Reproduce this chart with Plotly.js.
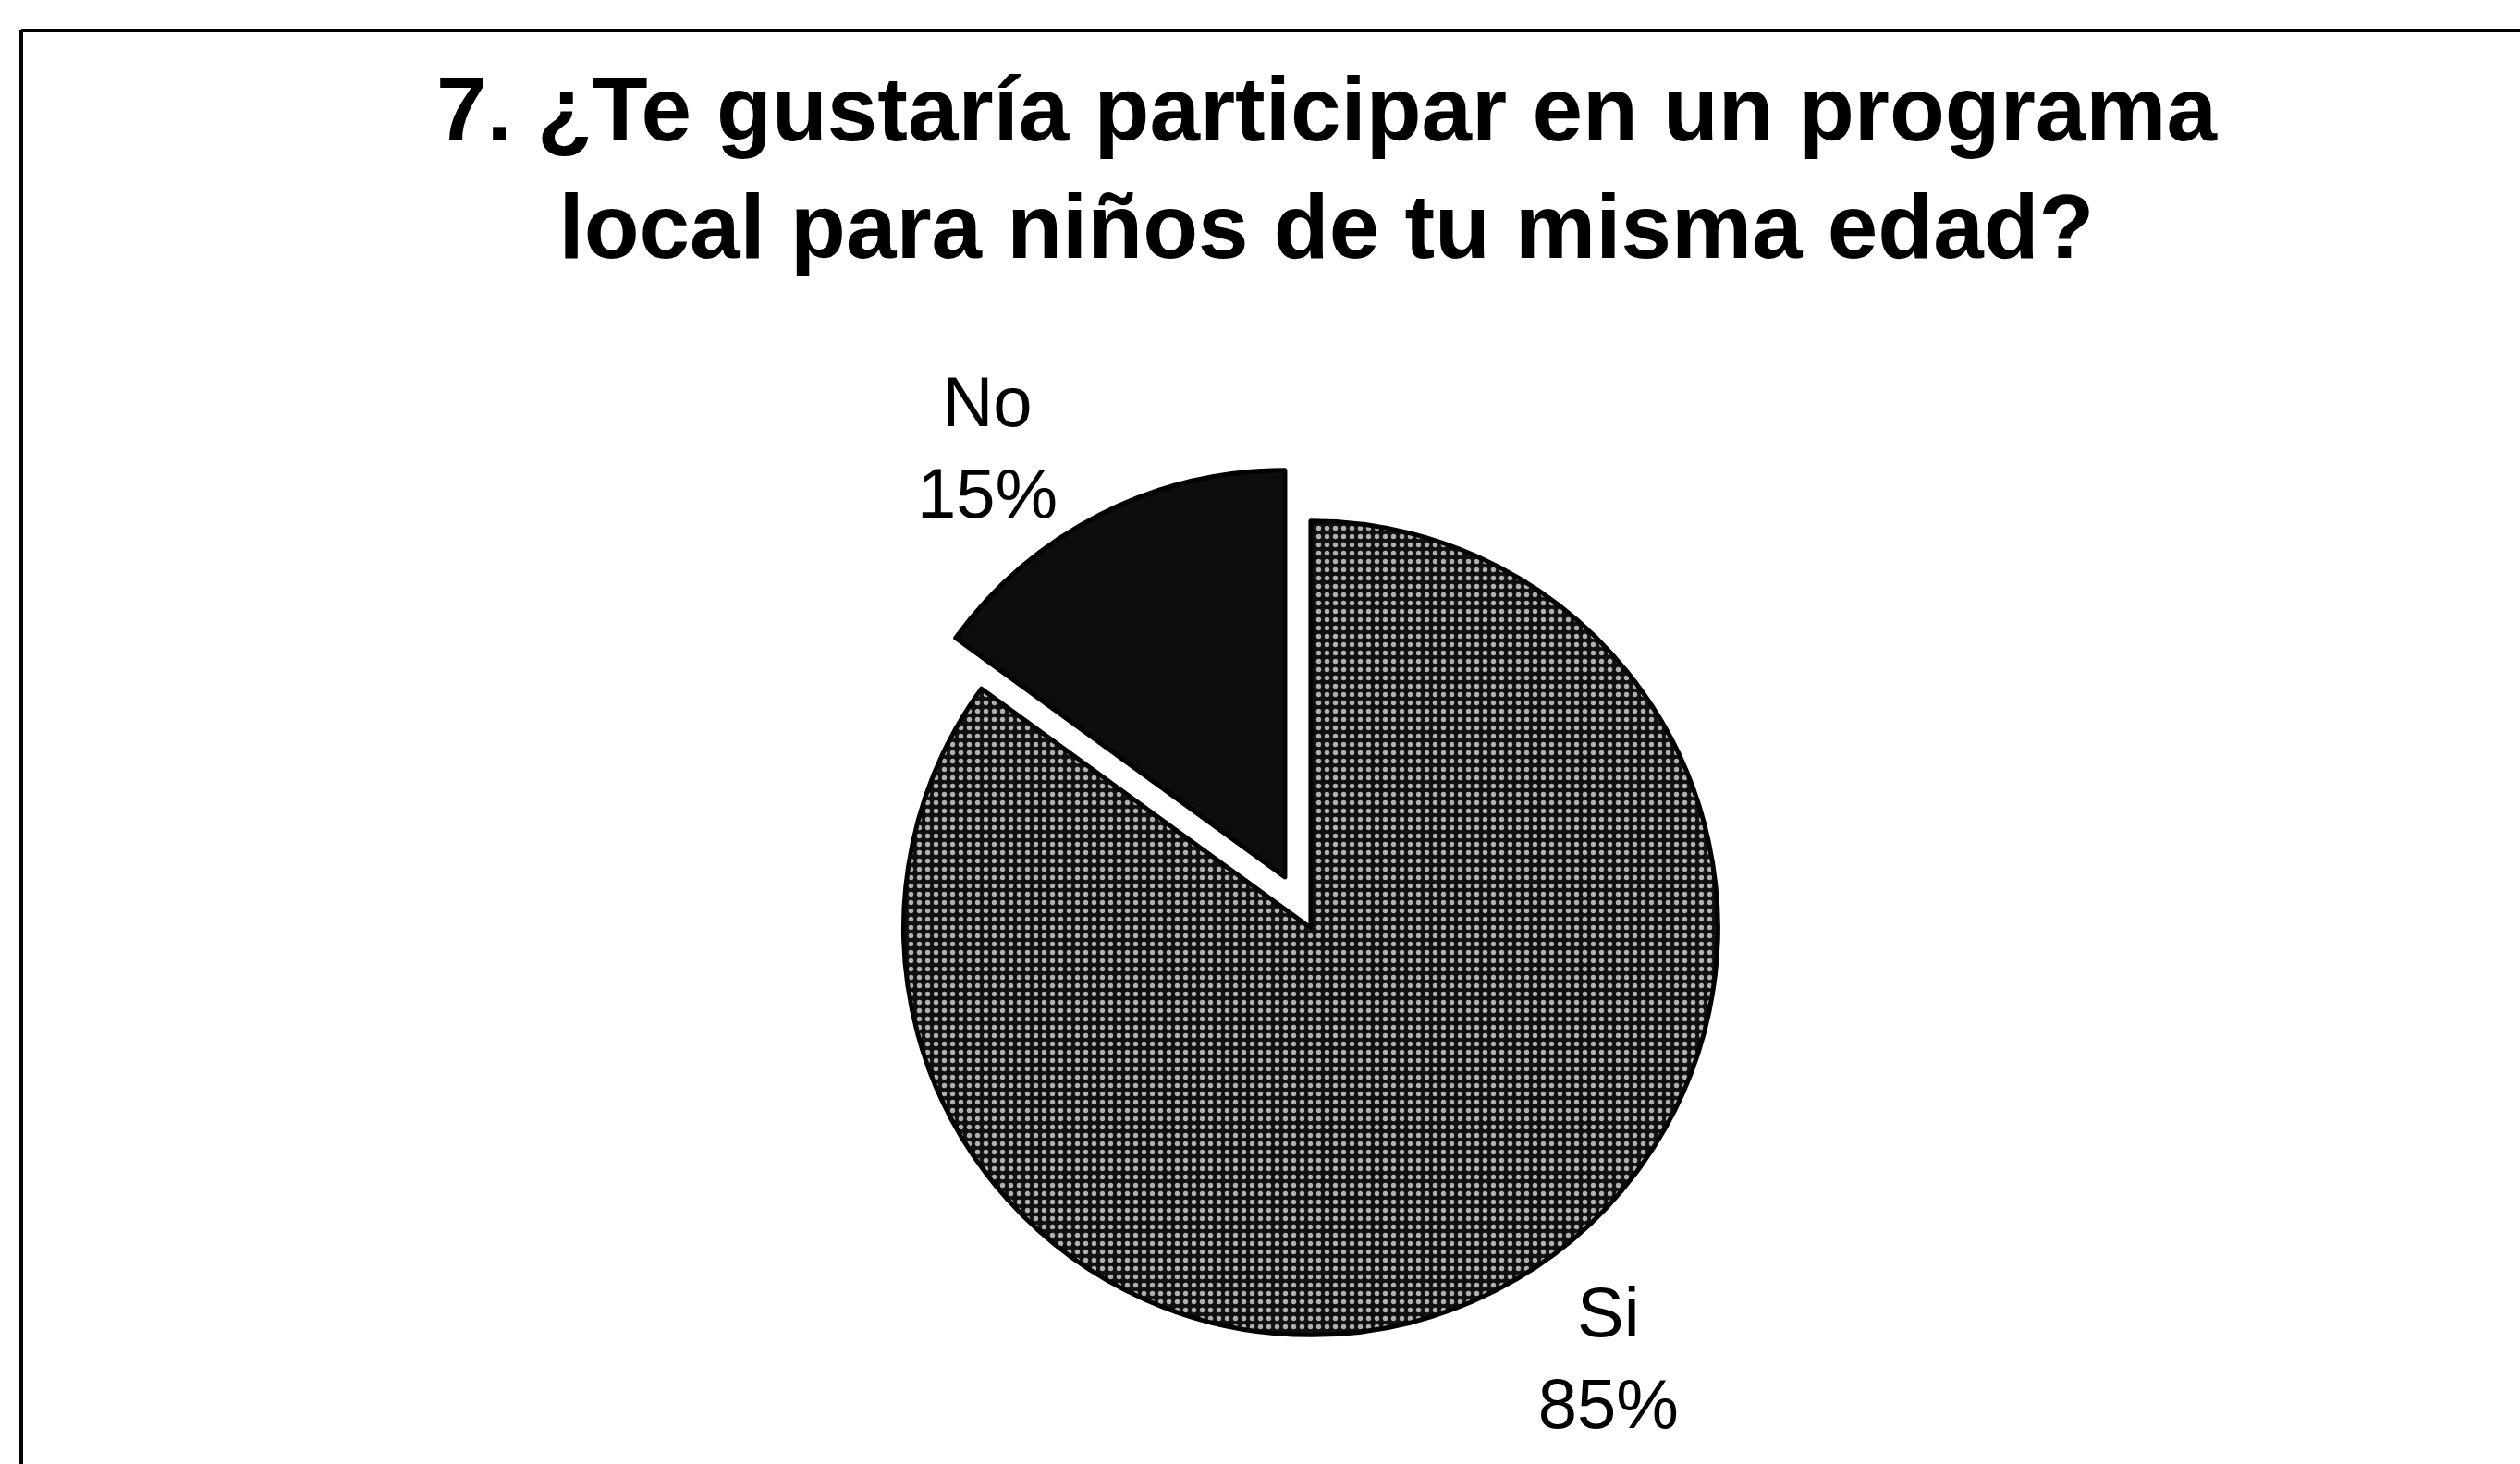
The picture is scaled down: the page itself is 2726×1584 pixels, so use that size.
<!DOCTYPE html>
<html>
<head>
<meta charset="utf-8">
<script src="https://cdn.plot.ly/plotly-3.0.1.min.js"></script>
<style>
  html, body { margin: 0; padding: 0; background: #fff; }
  #chart { width: 2726px; height: 1584px; }
</style>
</head>
<body>
<div id="chart"></div>
<script>
// survey answers, in percent (Si runs clockwise from 12 o'clock, No closes the circle)
let answers = ["Si", "No"];
let shares = [85, 15];
let pulls = [0, 0.14];
let sliceColors = ["#3a3a3a", "#0d0d0d"];
let slicePatterns = [".", ""];

let titleText = "7. ¿Te gustaría participar en un programa<br>local para niños de tu misma edad?";

let trace = {
    type: "pie",
    labels: answers,
    values: shares,
    pull: pulls,
    sort: false,
    direction: "clockwise",
    rotation: 0,
    texttemplate: "%{label}<br>%{percent}",
    textposition: "outside",
    automargin: false,
    outsidetextfont: { family: "Liberation Sans, Arial, sans-serif", size: 76, color: "#000" },
    marker: {
        colors: sliceColors,
        line: { color: "#000", width: 5 },
        pattern: { shape: slicePatterns, fgcolor: "#b0b0b0", bgcolor: "#101010", size: 9, solidity: 0.28, fillmode: "replace" }
    },
    domain: { x: [0.3360, 0.7043], y: [0.0492, 0.6831] },
    hoverinfo: "none"
};

let layout = {
    width: 2726,
    height: 1584,
    margin: { l: 0, r: 0, t: 0, b: 0 },
    paper_bgcolor: "#fff",
    showlegend: false,
    title: {
        text: titleText,
        font: { family: "Liberation Sans, Arial, sans-serif", size: 98, color: "#000", weight: "bold" },
        xref: "container", yref: "container",
        x: 0.5264, xanchor: "center",
        y: 0.904, yanchor: "top"
    },
    // frame of the scanned chart (left and top edges only)
    shapes: [
        { type: "line", xref: "paper", yref: "paper", x0: 23 / 2726, x1: 1, y0: 1 - 33 / 1584, y1: 1 - 33 / 1584, line: { color: "#000", width: 4 } },
        { type: "line", xref: "paper", yref: "paper", x0: 23 / 2726, x1: 23 / 2726, y0: 0, y1: 1 - 33 / 1584, line: { color: "#000", width: 4 } }
    ]
};

Plotly.newPlot("chart", [trace], layout, { staticPlot: true });
</script>
</body>
</html>
